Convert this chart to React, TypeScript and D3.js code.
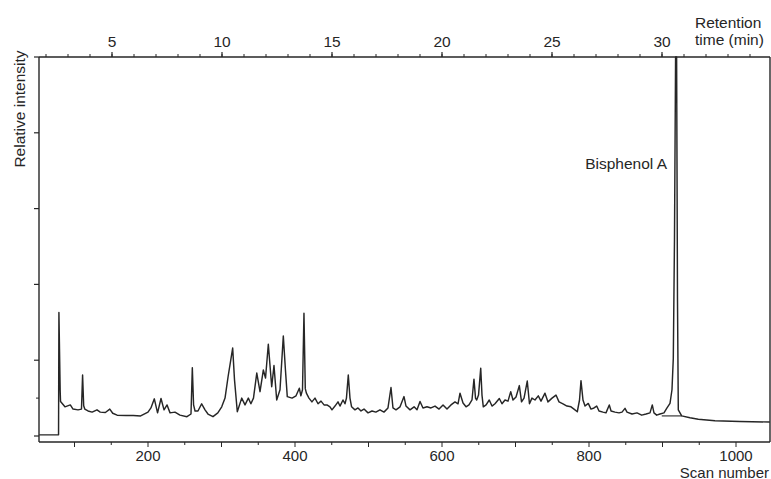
import React from "react";
import * as d3 from "d3";

const scans = [
  52, 78.3, 78.8, 80.5, 81, 87, 94.3, 98, 104.8, 109.5, 111, 112.5, 114, 118.4, 124, 130.6, 135, 142, 148, 152,
  158, 170, 180, 190, 200, 204, 208.6, 213, 217.7, 221.8, 225.9, 230, 236.7, 243.5, 253, 258.5, 260.3, 262, 264, 268,
  273, 277.6, 281.6, 288.4, 295, 300.3, 304.8, 309, 315.2, 317.7, 321.5, 327.5, 332, 336.5, 340, 343.5, 348, 352.4, 356.9, 359.9,
  363.7, 368.3, 371.4, 375.1, 379.6, 384.1, 387, 389.5, 396, 401.4, 405.9, 408, 410.2, 412.2, 414, 415.5, 419, 423, 427.2, 431.3,
  435.4, 439.5, 443.5, 447.6, 450.3, 454.4, 458.5, 461.2, 465.3, 468, 470, 472.5, 474.8, 477, 481.6, 485.7, 489.8, 493.9, 499.3, 504.8,
  510, 515.6, 521, 526.5, 530.6, 533.3, 537.4, 542.9, 548.3, 551, 556.5, 562, 566, 570.1, 574.1, 579.6, 585, 590.5, 596, 601.4,
  606.8, 612.2, 617.7, 621.8, 624.5, 628.6, 632.7, 636.7, 640.8, 643.5, 645.6, 647.2, 649.7, 652.7, 654.4, 656.2, 660, 664.3, 668, 672.1,
  678, 681.6, 685.7, 689.8, 693.5, 696.6, 700.7, 705.2, 708.2, 711.6, 716, 719, 722.4, 726.5, 731, 734.7, 740.1, 744.2, 749.7, 755.1,
  759.2, 764.6, 770, 775.5, 779.6, 784.1, 787.1, 789.1, 791.8, 794.6, 799, 802.7, 806.8, 810.5, 813.6, 819, 823.1, 827.6, 830, 835.4,
  840.8, 844.9, 849, 851.7, 858.5, 865.3, 871.7, 877.6, 883, 886.1, 888.4, 892.1, 896.6, 902, 905.7, 910.2, 912.9, 914.7, 916.3, 917.8,
  919.2, 920.4, 921.5, 926.1, 937.4, 948.7, 971.4, 1005.4, 1046,
];

const intensity = [
  0.3, 0.3, 32.6, 12, 9.1, 7.7, 8.2, 7.1, 6.9, 7.1, 16.1, 8, 7.1, 6.6, 6.3, 6.9, 6.3, 6.2, 7.1, 6.0,
  5.5, 5.4, 5.4, 5.3, 6.3, 7.4, 9.8, 6.1, 9.9, 6.9, 8.2, 6.1, 6.3, 5.5, 5.1, 5.8, 18.0, 8.2, 6.6, 6.6,
  8.5, 6.9, 5.8, 5.1, 6.1, 7.7, 10, 15.7, 23.2, 14.8, 6.4, 10, 8.2, 10, 8.5, 10, 16.6, 11.7, 17.4, 15.3,
  24.2, 13.0, 18.6, 9.5, 12.2, 26.4, 17.4, 10.4, 10, 10.6, 12.6, 10.6, 12.2, 32.4, 12.5, 11.3, 10, 9.0, 10, 8.5,
  9.2, 8.2, 8.2, 7.7, 6.9, 7.9, 9.0, 7.9, 9.5, 8.5, 10, 16.1, 10, 7.7, 6.9, 7.4, 6.6, 7.1, 6.1, 6.6,
  6.3, 6.9, 6.3, 7.4, 12.8, 7.4, 6.9, 7.7, 10.4, 7.9, 6.9, 7.7, 6.9, 9.1, 7.4, 7.7, 7.4, 7.9, 7.1, 8.2,
  7.1, 8.2, 9.0, 8.5, 11.3, 8.7, 7.7, 8.2, 9.5, 15.0, 10, 9.5, 10.8, 17.9, 10.8, 7.7, 8.2, 9.5, 7.9, 8.5,
  9.9, 8.5, 9.5, 9.2, 11.7, 9.5, 10.3, 13.3, 9.0, 10, 14.5, 8.5, 10, 9.5, 10.6, 9.2, 11.3, 9.0, 10, 10.8,
  9.0, 8.5, 7.9, 7.7, 7.1, 6.4, 9.5, 14.6, 9.5, 7.9, 8.6, 7.1, 7.4, 7.9, 6.6, 6.3, 6.1, 8.2, 6.6, 6.3,
  6.1, 6.3, 7.3, 6.3, 5.8, 6.1, 5.5, 5.8, 6.1, 8.2, 6.1, 5.5, 5.8, 6.1, 7.3, 8.6, 12.2, 20.5, 51.8, 100,
  100, 35.9, 6.9, 5.3, 4.8, 4.4, 4.0, 3.8, 3.7,
];

const baselineScans = [899, 926];
const baselineIntensity = [5.3, 5.3];

const scanTicks = [200, 400, 600, 800, 1000];
const scanMinorTicks = d3.range(100, 1001, 50);
const timeTicks = [5, 10, 15, 20, 25, 30];
const timeMinorTicks = d3.range(2, 35, 1);
const intensityTicks = [0, 20, 40, 60, 80, 100];
const intensityMinorTicks = [10];

const FONT = "'Liberation Sans', Arial, Helvetica, sans-serif";
const INK = "#262626";

export default function App() {
  const W = 771;
  const H = 479;
  const left = 39;
  const right = 770;
  const top = 57;
  const bottom = 442;

  const x = d3.scaleLinear().domain([0, 1000]).range([1, 736]);
  const t = d3.scaleLinear().domain([0, 35]).range([2, 772]);
  const y = d3.scaleLinear().domain([0, 100]).range([436, top]);

  const line = d3
    .line<number>()
    .x((_, i) => x(scans[i]))
    .y((_, i) => y(intensity[i]));

  const bline = d3
    .line<number>()
    .x((_, i) => x(baselineScans[i]))
    .y((_, i) => y(baselineIntensity[i]));

  return (
    <svg
      width={W}
      height={H}
      style={{ position: "absolute", left: 0, top: 0, background: "#fff" }}
      fontFamily={FONT}
    >
      <rect x={0} y={0} width={W} height={H} fill="#fff" />
      {/* frame */}
      <line x1={left} x2={right} y1={top} y2={top} stroke={INK} strokeWidth={1.4} />
      <line x1={left} x2={right} y1={bottom} y2={bottom} stroke={INK} strokeWidth={1.4} />
      <line x1={left} x2={left} y1={top} y2={bottom} stroke={INK} strokeWidth={1.4} />
      <line x1={right} x2={right} y1={top} y2={bottom} stroke={INK} strokeWidth={1.4} />

      {/* top axis ticks */}
      {timeMinorTicks.map((v) => (
        <line key={"tm" + v} x1={t(v)} x2={t(v)} y1={top} y2={top - 3} stroke={INK} strokeWidth={1} />
      ))}
      {timeTicks.map((v) => (
        <g key={"tt" + v}>
          <line x1={t(v)} x2={t(v)} y1={top} y2={top - 5} stroke={INK} strokeWidth={1.2} />
          <text x={t(v)} y={46.5} textAnchor="middle" fontSize={15.5} fill={INK}>
            {v}
          </text>
        </g>
      ))}
      <text x={695} y={28} fontSize={15.5} fill={INK}>Retention</text>
      <text x={695} y={45} fontSize={15.5} fill={INK}>time (min)</text>

      {/* bottom axis ticks */}
      {scanMinorTicks.map((v) => (
        <line key={"sm" + v} x1={x(v)} x2={x(v)} y1={bottom} y2={bottom + (v % 100 === 0 ? 5 : 3)} stroke={INK} strokeWidth={1} />
      ))}
      {scanTicks.map((v) => (
        <text key={"st" + v} x={x(v)} y={460.5} textAnchor="middle" fontSize={15} fill={INK}>
          {v}
        </text>
      ))}
      <text x={769} y={477.5} textAnchor="end" fontSize={15} fill={INK}>Scan number</text>

      {/* left axis ticks */}
      {intensityTicks.map((v) => (
        <line key={"it" + v} x1={left - 5} x2={left} y1={y(v)} y2={y(v)} stroke={INK} strokeWidth={1.2} />
      ))}
      {intensityMinorTicks.map((v) => (
        <line key={"im" + v} x1={left - 3} x2={left} y1={y(v)} y2={y(v)} stroke={INK} strokeWidth={1} />
      ))}
      <text
        transform={`translate(25,109) rotate(-90)`}
        textAnchor="middle"
        fontSize={15.5}
        fill={INK}
      >
        Relative intensity
      </text>

      {/* trace */}
      <path d={bline(baselineScans) || ""} fill="none" stroke={INK} strokeWidth={1.1} />
      <path d={line(scans) || ""} fill="none" stroke={INK} strokeWidth={1.45} strokeLinejoin="round" />

      <text x={667} y={169} textAnchor="end" fontSize={15.5} fill={INK}>Bisphenol A</text>
    </svg>
  );
}
